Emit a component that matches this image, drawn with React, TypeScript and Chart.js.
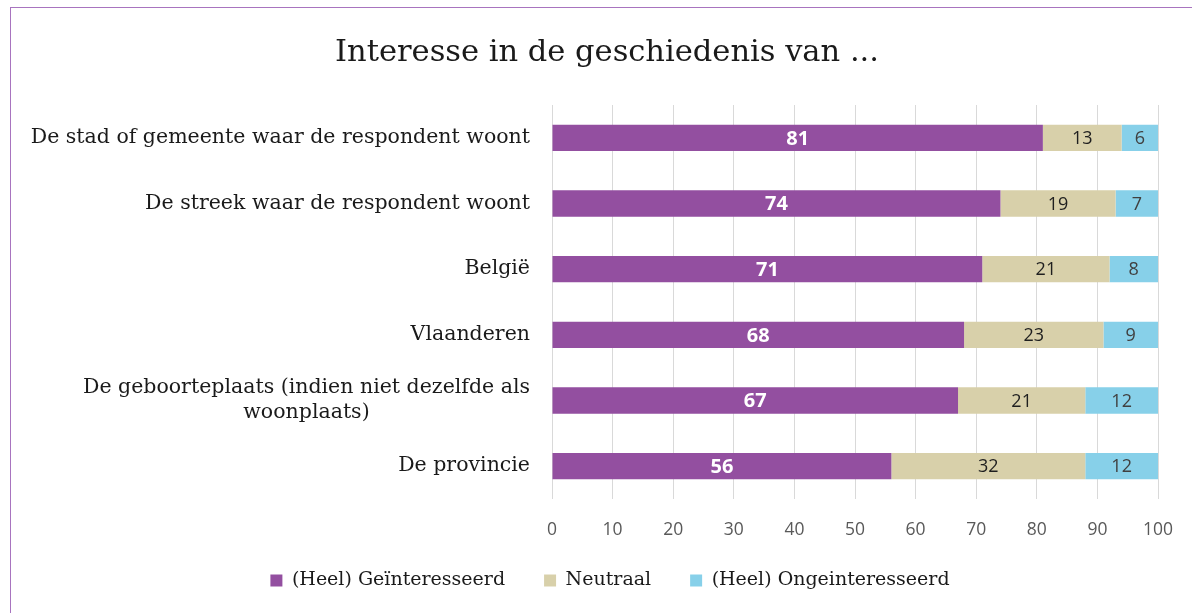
import React, { useEffect, useRef } from 'react';
import { Chart, registerables } from 'chart.js';
Chart.register(...registerables);

const TITLE = 'Interesse in de geschiedenis van ...';
const categories: (string | string[])[] = [
  'De stad of gemeente waar de respondent woont',
  'De streek waar de respondent woont',
  'België',
  'Vlaanderen',
  ['De geboorteplaats (indien niet dezelfde als', 'woonplaats)'],
  'De provincie',
];
const seriesNames = ['(Heel) Geïnteresseerd', 'Neutraal', '(Heel) Ongeinteresseerd'];
const interested = [81, 74, 71, 68, 67, 56];
const neutral = [13, 19, 21, 23, 21, 32];
const notInterested = [6, 7, 8, 9, 12, 12];
const xTicks = [0, 10, 20, 30, 40, 50, 60, 70, 80, 90, 100];

const COLORS = ['#934fa0', '#d8d0aa', '#87d0e9'];
const LABEL_COLORS = ['#ffffff', '#1f1f1f', '#404040'];
const SERIF = '"DejaVu Serif"';
const PAD_LEFT = 62;

const customText = {
  id: 'customText',
  afterDraw(chart: any) {
    const ctx = chart.ctx;
    const ys = chart.scales.y;
    const xs = chart.scales.x;
    ctx.save();
    ctx.fillStyle = '#1a1a1a';
    ctx.textAlign = 'center';
    ctx.textBaseline = 'middle';
    ctx.font = `30.5px ${SERIF}`;
    ctx.fillText(TITLE, 607, 53);
    ctx.font = `20.5px ${SERIF}`;
    const right = chart.chartArea.left - 22;
    categories.forEach((lab, i) => {
      const lines = Array.isArray(lab) ? lab : [lab];
      const w = Math.max(...lines.map((l) => ctx.measureText(l).width));
      const cx = right - w / 2;
      const y0 = ys.getPixelForTick(i) - ((lines.length - 1) * 25) / 2;
      lines.forEach((l, j) => ctx.fillText(l, cx, y0 + j * 25));
    });
    // x-axis tick labels
    ctx.fillStyle = '#595959';
    ctx.font = '17.5px "Open Sans"';
    const ty = chart.chartArea.bottom + 31;
    xs.ticks.forEach((t: any) => {
      ctx.fillText(String(t.value), xs.getPixelForValue(t.value), ty);
    });
    ctx.restore();
  },
};

const dataLabels = {
  id: 'dataLabels',
  afterDatasetsDraw(chart: any) {
    const ctx = chart.ctx;
    ctx.save();
    ctx.textAlign = 'center';
    ctx.textBaseline = 'middle';
    chart.data.datasets.forEach((ds: any, di: number) => {
      const meta = chart.getDatasetMeta(di);
      ctx.font = di === 0 ? 'bold 20px "Open Sans"' : '18px "Open Sans"';
      ctx.fillStyle = LABEL_COLORS[di];
      meta.data.forEach((bar: any, i: number) => {
        const p = bar.getCenterPoint();
        ctx.fillText(String(ds.data[i]), p.x, p.y + 1);
      });
    });
    ctx.restore();
  },
};

export default function App() {
  const ref = useRef<HTMLCanvasElement>(null);
  useEffect(() => {
    const chart = new Chart(ref.current!, {
      type: 'bar',
      data: {
        labels: categories as any,
        datasets: [interested, neutral, notInterested].map((d, i) => ({
          label: seriesNames[i],
          data: d,
          backgroundColor: COLORS[i],
          borderWidth: 0,
          categoryPercentage: 0.8,
          barPercentage: 0.5,
        })),
      },
      options: {
        indexAxis: 'y',
        animation: false,
        responsive: true,
        maintainAspectRatio: false,
        layout: { padding: { left: PAD_LEFT, right: 34, top: 105, bottom: 13 } },
        scales: {
          x: {
            stacked: true,
            min: 0,
            max: 100,
            afterBuildTicks: (s: any) => {
              s.ticks = xTicks.map((v) => ({ value: v }));
            },
            afterFit: (s: any) => {
              s.height = 33;
            },
            ticks: { display: false },
            grid: { color: '#d9d9d9', lineWidth: 1, drawTicks: false },
            border: { display: false },
          },
          y: {
            stacked: true,
            afterFit: (s: any) => {
              s.width = 552 - PAD_LEFT;
            },
            ticks: { display: false },
            grid: { display: false },
            border: { display: false },
          },
        },
        plugins: {
          legend: {
            position: 'bottom',
            labels: {
              boxWidth: 12,
              boxHeight: 12,
              padding: 39,
              color: '#1a1a1a',
              font: { family: SERIF, size: 19 },
            },
          },
          tooltip: { enabled: false },
          title: { display: false },
        },
      },
      plugins: [customText, dataLabels],
    });
    return () => chart.destroy();
  }, []);
  return (
    <div style={{ position: 'fixed', left: 0, top: 0, width: 1192, height: 613, overflow: 'hidden', background: '#fff' }}>
      <div style={{ position: 'absolute', left: 10, top: 7, width: 1300, height: 700, border: '1px solid #a874bf' }} />
      <div style={{ position: 'absolute', left: 0, top: 0, width: 1192, height: 613 }}>
        <canvas ref={ref} />
      </div>
    </div>
  );
}
